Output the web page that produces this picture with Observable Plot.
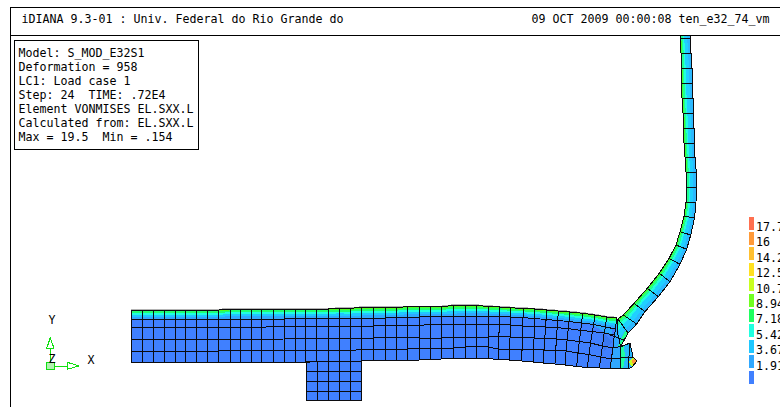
<!DOCTYPE html>
<html>
<head>
<meta charset="utf-8">
<script src="https://cdn.jsdelivr.net/npm/d3@7"></script>
<script src="https://cdn.jsdelivr.net/npm/@observablehq/plot@0.6"></script>
<style>html,body{margin:0;padding:0;background:#fff;overflow:hidden}svg{display:block}</style>
</head>
<body>
<div id="chart"></div>
<script>
const headerLeft = "iDIANA 9.3-01 : Univ. Federal do Rio Grande do";
const headerRight = "09 OCT 2009 00:00:08 ten_e32_74_vm";
const infoLines = ["Model: S_MOD_E32S1","Deformation = 958","LC1: Load case 1","Step: 24  TIME: .72E4","Element VONMISES EL.SXX.L","Calculated from: EL.SXX.L","Max = 19.5  Min = .154"];
const legendLabels = ["17.7","16","14.2","12.5","10.7","8.94","7.18","5.42","3.67","1.91"];
const legendColors = ["#ff7050","#ff9a38","#ffc030","#ffe020","#c8ff20","#70ff20","#20ff60","#20ffe0","#20c8ff","#30a8ff","#4080ff"];

// Flange stations (model coordinates)
const flangeXTop = [131.7,142.7,153.3,164.3,175,185.7,196.7,207.7,218.7,230,240.7,251,261.7,273.3,284,295,305.7,316.7,328.3,339.3,350,361.7,373.3,385,396.7,407.7,419,430,441.7,453.3,465,476.7,488.3,500,511,523.3,535,546.7,558.3,570,582.7,595,606.7,616.7];
const flangeXBot = [131.7,142.7,153.3,164.3,175,185.7,196.7,207.7,218.7,230,240.7,251,261.7,273.3,284,295,305.7,316.7,328.3,339.3,350,361.7,373.3,385,396.7,407.7,419,430,441.7,453.3,465,476.7,488.3,498,509.3,521.7,533.3,543.3,555,565,576.7,587.3,599.3,610];
const row0 = [310,310,310,310,310,310,310,310,310,309,309,309,309,309,309,309,309,309,309,308.5,308.3,307.5,307.3,307.3,307.3,306.8,306.7,306.7,306.7,305.5,305.3,305.5,306.5,307,307.8,308.5,309,310,311,312,313.3,315,317,318];
const row1 = [319,319,319,319,319,319,319,319,319,319,319,319,319,319,319,318,318,318,318,318,318.5,318.3,318,318,317.5,317,317,316.7,316.5,316.5,316,316,316,316.5,317,317.7,318.5,319.5,320.5,321.5,323,324.5,327,329];
const row2 = [327.3,327.3,327.3,327.3,327.3,327.3,327.3,327.3,327.3,327.3,327.3,327.3,327.3,326.5,326.5,326.5,326.5,326.5,326.5,326.5,326.5,326,326,325.7,325.7,325.7,325.5,324.5,324.3,324.3,324.3,324.3,324.3,324.5,325,326,326.5,327,327.7,328.5,330.5,331.5,333,335];
const row3 = [339.3,339.3,339.3,339.3,339.3,339.3,339.3,339.3,339.3,339.3,339.3,339.3,339.3,339.3,339,338.5,338.5,338.5,338.5,338.5,338.5,338.5,338,337,337,337,338,338,338,337.7,337.5,337.5,337,336.7,337,337.5,338,338.5,339,340,341.5,343,346,348];
const row4 = [351,351,351,351,351,351,351,351,351,350,350,350,350,350,350,350,350,350,350,350,350.5,349.5,349.3,349.3,349.3,349,348.5,348.3,348.3,348,347,346.7,347,349,349,349.5,349.5,350,350.5,351,353,354.5,357,359];
const row5 = [362.3,362.3,362.3,362.3,362.3,362.3,362.3,362.3,362.3,362.3,362.3,362.3,362.3,362.3,362.3,362.3,362.3,361.5,361.5,361.5,361.5,361,360,360,360,360,360,359.5,359,358.7,358.7,358.7,358.7,359.3,360,361,362,363,364,365,366.5,367.5,368,368.5];
const flangeRows = [row0,row1,row2,row3,row4,row5];
const rowShare = [0,0.18,0.34,0.57,0.79,1];
const topBandEdges = [0,0.14,0.32,0.52,0.74,1];
const topBandColors = ["#50ff20","#20ff70","#20ffe0","#20c8ff","#30a8ff"];

// Stem
const stemX = [306.3,317.3,328.3,339.3,350.7,361.7];
const stemY = [361.7,371.7,381.7,391.7,400.7];

// Web stations, from the top down
const webLX = [680,680,681,681,681.5,682,683,683.5,684,685,686,686,686,684,680,676,669,659.3,647.3,634,623.3,618,616.7];
const webLY = [36,38,53,68,83,98,113,128,143,157,172,187,202,216,231.7,245,258.3,273.3,288.3,303.3,315,319,318];
const webRX = [690,690,691,692,692.5,693,693.5,694,694.5,695,696.3,696.3,696,694.5,690.7,686.7,680,670,658.3,645,636.7,628,620.7];
const webRY = [36,38,53,68,83,98,113,128,143,157,172,187,202,218,235,249.3,264.3,281.7,296.7,311.7,324,333,346.7];
const webBandEdges = [0,0.13,0.27,0.42,0.72,1];
const webBandColors = ["#40ff30","#20ff90","#20ffe0","#20d0ff","#2cb8ff"];

// End of the flange
const patchId = ["a","a","a","a","a","a", "b","b","b","b","b","b","b", "c","c","c","c","c", "d","d","d","d", "e","e","e","e", "f","f","f", "g","g","g","g", "h","h","h","h"];
const patchX = [616.7,620.7,620.7,628,628,610, 620.7,630,633,637,632,628,620, 620.7,624,625,623,620, 633,637,632,629, 634,637,633,632, 604,612,604, 590,612,612,604, 621,628,625,618];
const patchY = [318,346.7,358,369,368.5,368.5, 346.7,343,357,361,367,369,369, 346.7,346,358,369,369, 357,361,367,362, 358.5,361,364.5,361, 334,342,352, 323,328,335,332, 346.7,333,331,346];
const patchColor = {a:"#30a8ff",b:"#28b8ff",c:"#20ffa0",d:"#c8ff20",e:"#ff9a38",f:"#3a78f0",g:"#30a8ff",h:"#20ff90"};
const endLines = [[610,335,624,340],[610,348,620.7,346.7],[610,359,633,357],[620,346.7,620,369],[630,343,628,369],[610,368.5,628,369],[620.7,346.7,630,343],[630,343,633,357],[633,357,637,361],[637,361,632,367],[632,367,628,369],[618,319,617,330],[617,330,620.7,346.7]];

// ---- tables built for the marks ----
const polys = [], lines = [];
function addBand(id, xa, ya, xb, yb, color) {
  xa.forEach((x,i)=>polys.push({id,x,y:ya[i],color}));
  for (let i=xb.length-1;i>=0;i--) polys.push({id,x:xb[i],y:yb[i],color});
}
const xAtRow = (s,j)=>flangeXTop[s]+(flangeXBot[s]-flangeXTop[s])*rowShare[j];
addBand("fl", flangeXTop, row0, flangeXBot, row5, "#4080ff");
topBandColors.forEach((c,b)=>{
  const e0=topBandEdges[b], e1=topBandEdges[b+1];
  addBand("tb"+b, flangeXTop, row0.map((y,i)=>y+(row1[i]-y)*e0), flangeXTop, row0.map((y,i)=>y+(row1[i]-y)*e1), c);
});
addBand("st",[stemX[0],stemX[5]],[stemY[0],stemY[0]],[stemX[0],stemX[5]],[stemY[4],stemY[4]],"#4080ff");
webBandColors.forEach((c,b)=>{
  const e0=webBandEdges[b], e1=webBandEdges[b+1];
  addBand("wb"+b,
    webLX.map((x,i)=>x+(webRX[i]-x)*e0), webLY.map((y,i)=>y+(webRY[i]-y)*e0),
    webLX.map((x,i)=>x+(webRX[i]-x)*e1), webLY.map((y,i)=>y+(webRY[i]-y)*e1), c);
});
const patches = patchX.map((x,i)=>({id:patchId[i],x,y:patchY[i],color:patchColor[patchId[i]]}));

let lid=0;
const addLine=(xs,ys)=>{lid++;xs.forEach((x,i)=>lines.push({id:lid,x,y:ys[i]}));};
flangeRows.forEach((r,j)=>addLine(r.map((_,s)=>xAtRow(s,j)),r));
flangeXTop.forEach((_,s)=>addLine(rowShare.map((_,j)=>xAtRow(s,j)),flangeRows.map(r=>r[s])));
stemX.forEach(x=>addLine([x,x],[stemY[0],stemY[4]]));
stemY.forEach(y=>addLine([stemX[0],stemX[5]],[y,y]));
addLine(webLX.slice(0,-1),webLY.slice(0,-1)); addLine(webRX,webRY);
webLX.forEach((x,i)=>{ if(i>0 && i<webLX.length-1) addLine([x,webRX[i]],[webLY[i],webRY[i]]); });
endLines.forEach(a=>addLine([a[0],a[2]],[a[1],a[3]]));

const triadGreen = "#10e010";
const triadFill = [
  {id:"o",x:46,y:362},{id:"o",x:54,y:362},{id:"o",x:54,y:369.5},{id:"o",x:46,y:369.5},{id:"o",x:46,y:362},
  {id:"ya",x:46.7,y:348.3},{id:"ya",x:54,y:348.3},{id:"ya",x:50.3,y:337.7},{id:"ya",x:46.7,y:348.3},
  {id:"xa",x:67.3,y:362.3},{id:"xa",x:67.3,y:369.3},{id:"xa",x:79,y:366},{id:"xa",x:67.3,y:362.3},
  {id:"yl",x:50.3,y:362},{id:"yl",x:50.3,y:348.3},
  {id:"xl",x:54,y:366},{id:"xl",x:67.3,y:366}
];

const mono = "'DejaVu Sans Mono', monospace";
const fs = 11.63;
const crisp = {shapeRendering:"crispEdges",dx:-0.5,dy:-0.5};
const chart = Plot.plot({
  width:780, height:407, margin:0,
  x:{domain:[0,780],range:[0,780],axis:null},
  y:{domain:[0,407],range:[0,407],axis:null},
  color:{type:"identity"},
  style:{background:"#fff",fontFamily:mono},
  marks:[
    Plot.line(polys,{x:"x",y:"y",z:"id",fill:"color",stroke:null,...crisp}),
    Plot.line(patches,{x:"x",y:"y",z:"id",fill:"color",stroke:null,...crisp}),
    Plot.line(flangeXTop,{x:d=>d,y:(d,i)=>row0[i]-0.7,stroke:"#b4b4b4",strokeWidth:1,...crisp}),
    Plot.line(lines,{x:"x",y:"y",z:"id",stroke:"#0c0c10",strokeWidth:1,...crisp}),
    // frame
    Plot.ruleX([10],{x:d=>d,y1:7,y2:407,stroke:"#000",strokeWidth:1,...crisp}),
    Plot.ruleY([7,35],{y:d=>d,x1:10,x2:780,stroke:"#000",strokeWidth:1,...crisp}),
    Plot.rect([0],{x1:15,x2:199,y1:41,y2:150,fill:"#fff",stroke:"#000",strokeWidth:1,...crisp}),
    // header + info
    Plot.text([headerLeft],{text:d=>d,x:21,y:19,textAnchor:"start",fontSize:fs,fill:"#000"}),
    Plot.text([headerRight],{text:d=>d,x:531,y:19,textAnchor:"start",fontSize:fs,fill:"#000"}),
    Plot.text(infoLines,{text:d=>d,x:18,y:(d,i)=>52.5+14*i,textAnchor:"start",fontSize:fs,fill:"#000"}),
    // legend
    Plot.rect(legendColors,{x1:749,x2:754,y1:(d,i)=>217+15.4*i,y2:(d,i)=>230+15.4*i,fill:d=>d,...crisp}),
    Plot.text(legendLabels,{text:d=>d,x:755.5,y:(d,i)=>226.7+15.4*i,textAnchor:"start",fontSize:fs,fill:"#000"}),
    // triad
    Plot.line(triadFill,{x:"x",y:"y",z:"id",stroke:triadGreen,strokeWidth:1,fill:d=>d.id==="o"?"#b0f0b0":"none",...crisp}),
    Plot.text(["Y","Z","X"],{text:d=>d,x:(d,i)=>[51.5,51.5,90.5][i],y:(d,i)=>[320,359,360][i],textAnchor:"middle",fontSize:fs,fill:"#000"})
  ]
});
document.getElementById("chart").append(chart);
</script>
</body>
</html>
